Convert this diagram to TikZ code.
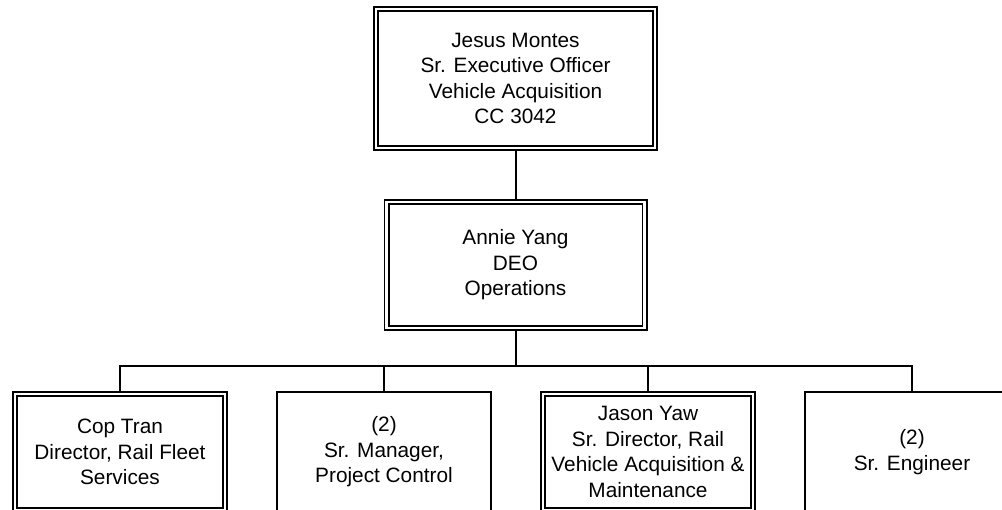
\documentclass[tikz,border=0pt]{standalone}
\usepackage{fontspec}
\setmainfont{Liberation Sans}
\begin{document}
\begin{tikzpicture}[x=1pt,y=-1pt,
  box/.style={draw, rectangle, line width=2pt, inner sep=0pt, outer sep=1pt,
    align=center, font=\fontsize{20.8}{25.5}\selectfont,
    minimum width=214pt, minimum height=120pt},
  dbox/.style={box, double, line width=1.7pt, double distance=2.6pt, outer sep=3pt,
    minimum width=210pt, minimum height=116pt},
  link/.style={line width=2pt}]
\useasboundingbox (0,0) rectangle (1002,510);
\clip (0,0) rectangle (1002,510);
\node[dbox, minimum width=279pt, minimum height=139pt] (jm) at (515.5,78.5)
  {Jesus Montes\\Sr. Executive Officer\\Vehicle Acquisition\\CC 3042};
\node[dbox, minimum width=258pt, minimum height=126pt] (ay) at (515.5,265)
  {Annie Yang\\DEO\\Operations};
\node[dbox] (ct) at (120,452) {Cop Tran\\Director, Rail Fleet\\Services};
\node[box] (sm) at (384,452) {(2)\\Sr. Manager,\\Project Control};
\node[dbox] (jy) at (648,452) {Jason Yaw\\Sr. Director, Rail\\Vehicle Acquisition \&\\Maintenance};
\node[box] (se) at (912,452) {(2)\\Sr. Engineer};
\coordinate (bus) at (515.5,366);
\draw[link] (jm.south) -- (ay.north);
\draw[link] (ay.south) -- (bus);
\draw[link] (ct.north) |- (bus) -| (se.north);
\draw[link] (sm.north) -- (sm.north |- bus);
\draw[link] (jy.north) -- (jy.north |- bus);
\end{tikzpicture}
\end{document}
